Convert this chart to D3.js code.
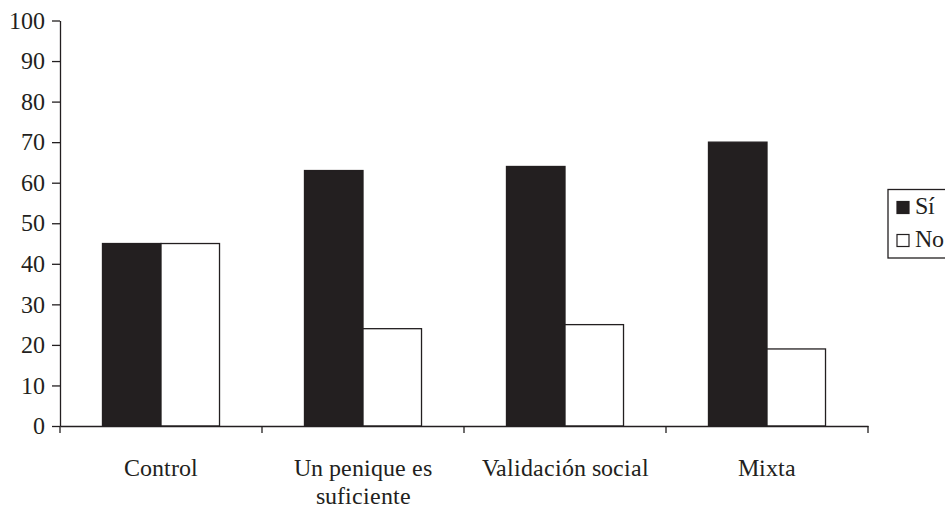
<!DOCTYPE html>
<html>
<head>
<meta charset="utf-8">
<script src="https://cdn.jsdelivr.net/npm/d3@7/dist/d3.min.js"></script>
<style>
  @font-face {
    font-family: "ChartSerif";
    src: local("Liberation Serif"), local("LiberationSerif"), local("LiberationSerif-Regular"),
         local("Times New Roman"), local("Tinos");
  }
  html, body { margin: 0; padding: 0; background: #fff; }
  svg { display: block; }
  svg text { font-family: "ChartSerif", "Liberation Serif", "Times New Roman", serif; }
</style>
</head>
<body>
<svg id="chart" width="945" height="508"></svg>
<script>
// Chart data
const categories = ["Control", "Un penique es\nsuficiente", "Validación social", "Mixta"];
const seriesNames = ["Sí", "No"];
const siValues = [45, 63, 64, 70];
const noValues = [45, 24, 25, 19];
const yTicks = [0, 10, 20, 30, 40, 50, 60, 70, 80, 90, 100];

const ink = "#231f20";
const svg = d3.select("#chart");

const x = d3.scaleBand().domain(categories).range([60, 868]).paddingInner(0).paddingOuter(0);
const xs = d3.scaleBand().domain(seriesNames).range([0, x.bandwidth()]).paddingInner(0).paddingOuter(0.726);
const y = d3.scaleLinear().domain([0, 100]).range([426, 20.5]);

const rows = categories.map((c, i) => ({ cat: c, values: [
  { key: "Sí", v: siValues[i] },
  { key: "No", v: noValues[i] }
]}));

const fills = { "Sí": ink, "No": "#ffffff" };

function styleText(sel) {
  sel.attr("font-size", 24).attr("fill", ink);
}

// Bars
const groups = svg.append("g").selectAll("g").data(rows).join("g")
  .attr("transform", d => `translate(${x(d.cat)},0)`);
groups.selectAll("rect").data(d => d.values).join("rect")
  .attr("x", d => xs(d.key))
  .attr("y", d => y(d.v))
  .attr("width", xs.bandwidth())
  .attr("height", d => y(0) - y(d.v))
  .attr("fill", d => fills[d.key])
  .attr("stroke", ink)
  .attr("stroke-width", 1.3);

// Y axis
const yAxis = svg.append("g").attr("transform", "translate(60,0)")
  .call(d3.axisLeft(y).tickValues(yTicks).tickSize(8).tickPadding(7).tickSizeOuter(0))
  .attr("font-family", null).attr("font-size", null);
yAxis.select(".domain").attr("stroke", ink).attr("stroke-width", 1.3);
yAxis.selectAll(".tick line").attr("stroke", ink).attr("stroke-width", 1.3);
yAxis.selectAll(".tick text").call(styleText);

// X axis: baseline with boundary ticks, labels centred on bands
const xAxis = svg.append("g").attr("transform", `translate(0,${y(0)})`)
  .call(d3.axisBottom(x).tickSize(0).tickSizeOuter(0).tickPadding(0))
  .attr("font-family", null).attr("font-size", null);
xAxis.select(".domain").attr("stroke", ink).attr("stroke-width", 1.3);
const bounds = categories.map(c => x(c)).concat([x.range()[1]]);
xAxis.selectAll("line.bound").data(bounds).join("line").attr("class", "bound")
  .attr("x1", d => d).attr("x2", d => d).attr("y1", 0).attr("y2", 7)
  .attr("stroke", ink).attr("stroke-width", 1.3);
xAxis.selectAll(".tick text").each(function (d) {
  const t = d3.select(this).text(null).attr("y", 0).attr("dy", null).call(styleText);
  d.split("\n").forEach((line, i) => {
    t.append("tspan").attr("x", 0).attr("y", 50 + i * 28).text(line);
  });
});

// Legend
const legend = svg.append("g").attr("transform", "translate(888,189.5)");
legend.append("rect").attr("x", 0).attr("y", 0).attr("width", 80).attr("height", 68.5)
  .attr("fill", "#fff").attr("stroke", ink).attr("stroke-width", 1.3);
seriesNames.forEach((s, i) => {
  const gy = 12 + i * 33;
  legend.append("rect").attr("x", 9).attr("y", gy).attr("width", 12).attr("height", 12)
    .attr("fill", fills[s]).attr("stroke", ink).attr("stroke-width", 1.2);
  legend.append("text").attr("x", 27).attr("y", gy + 12.5).text(s).call(styleText);
});
</script>
</body>
</html>
